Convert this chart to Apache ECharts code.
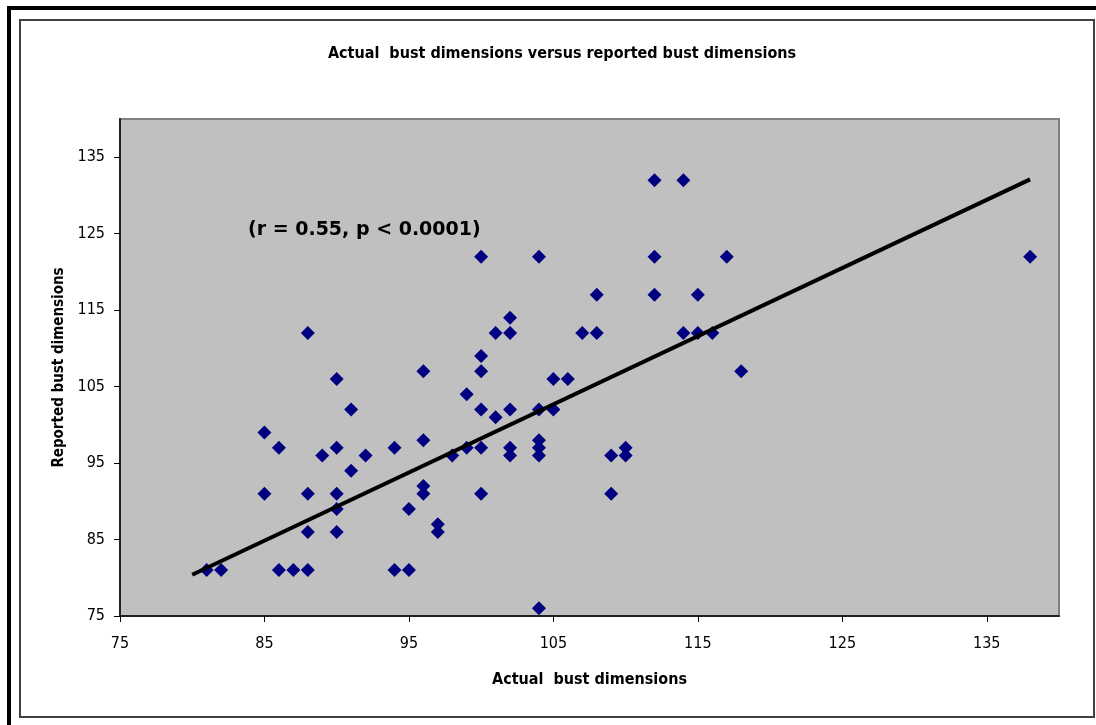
<!DOCTYPE html>
<html>
<head>
<meta charset="utf-8">
<script src="https://cdn.jsdelivr.net/npm/echarts@6/dist/echarts.min.js"></script>
<style>
html,body{margin:0;padding:0;background:#fff;}
#c{width:1096px;height:725px;}
</style>
</head>
<body>
<div id="c"></div>
<script>
// Actual vs reported bust dimensions
const actual   = [81,82,85,85,86,86,87,88,88,88,88,89,90,90,90,90,90,91,91,92,94,94,95,95,96,96,96,96,97,97,98,99,99,100,100,100,100,100,100,101,101,102,102,102,102,102,104,104,104,104,104,104,105,105,106,107,108,108,109,109,110,110,112,112,112,114,114,115,115,116,117,118,138];
const reported = [81,81,99,91,97,81,81,112,91,86,81,96,106,97,91,89,86,102,94,96,97,81,89,81,107,98,92,91,87,86,96,104,97,122,109,107,102,97,91,112,101,114,112,102,97,96,122,102,98,97,96,76,106,102,106,112,117,112,96,91,97,96,132,122,117,132,112,117,112,112,122,107,122];
const trendX = [80, 138];
const trendY = [80.4, 132.1];
const tickValues = [75, 85, 95, 105, 115, 125, 135];

const points = actual.map((x, i) => [x, reported[i]]);
const trend = trendX.map((x, i) => [x, trendY[i]]);

const FONT = '"Liberation Sans Narrow", "DejaVu Sans Condensed", "Liberation Sans", Arial, sans-serif';

const chart = echarts.init(document.getElementById('c'), null, {renderer: 'canvas'});
chart.setOption({
  animation: false,
  backgroundColor: '#ffffff',
  title: {
    text: 'Actual  bust dimensions versus reported bust dimensions',
    left: 557, top: 41, textAlign: 'center',
    textStyle: {fontFamily: FONT, fontSize: 16, fontWeight: 'bold', color: '#000'}
  },
  graphic: [
    {type: 'rect', shape: {x: 7, y: 6, width: 1089, height: 4}, style: {fill: '#000'}, silent: true},
    {type: 'rect', shape: {x: 7, y: 6, width: 4, height: 719}, style: {fill: '#000'}, silent: true},
    {type: 'rect', shape: {x: 20, y: 20, width: 1074, height: 697}, style: {fill: 'none', stroke: '#404040', lineWidth: 2}, silent: true, z: -1},
    {type: 'text', left: 248, top: 221, style: {text: '(r = 0.55, p < 0.0001)', fontFamily: '"DejaVu Sans", sans-serif', fontSize: 19, fontWeight: 'bold', fill: '#000'}, z: 100}
  ],
  grid: {
    left: 120, top: 119, width: 939, height: 497,
    show: true, backgroundColor: '#C0C0C0', borderColor: '#808080', borderWidth: 2
  },
  xAxis: {
    type: 'value', min: 75, max: 140, interval: 10,
    name: 'Actual  bust dimensions', nameLocation: 'middle', nameGap: 56,
    nameTextStyle: {fontFamily: FONT, fontSize: 16, fontWeight: 'bold', color: '#000'},
    axisLine: {show: true, onZero: false, lineStyle: {color: '#222', width: 2}},
    axisTick: {show: true, inside: false, length: 6, lineStyle: {color: '#000'}, customValues: tickValues},
    axisLabel: {margin: 20, fontFamily: FONT, fontSize: 16, color: '#000', customValues: tickValues},
    splitLine: {show: false}
  },
  yAxis: {
    type: 'value', min: 75, max: 140, interval: 10,
    name: 'Reported bust dimensions', nameLocation: 'middle', nameGap: 52, nameRotate: 90,
    nameTextStyle: {fontFamily: FONT, fontSize: 15, fontWeight: 'bold', color: '#000'},
    axisLine: {show: true, onZero: false, lineStyle: {color: '#222', width: 2}},
    axisTick: {show: true, inside: false, length: 6, lineStyle: {color: '#000'}, customValues: tickValues},
    axisLabel: {margin: 15, fontFamily: FONT, fontSize: 16, color: '#000', customValues: tickValues},
    splitLine: {show: false}
  },
  series: [
    {
      type: 'scatter', data: points, symbol: 'diamond', symbolSize: 14,
      itemStyle: {color: '#000080', opacity: 1}, z: 3
    },
    {
      type: 'line', data: trend, showSymbol: false, symbol: 'none',
      lineStyle: {color: '#000', width: 4}, z: 4
    }
  ]
});
</script>
</body>
</html>
